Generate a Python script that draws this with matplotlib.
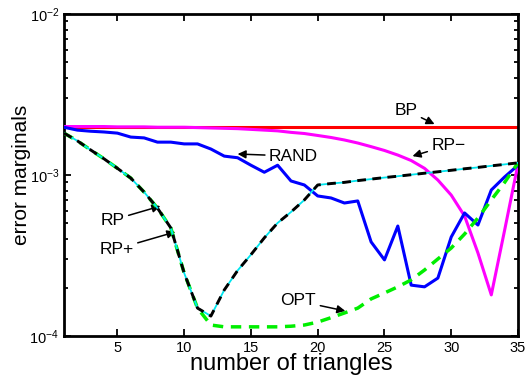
import numpy as np
import matplotlib
matplotlib.use("Agg")
import matplotlib.pyplot as plt
from matplotlib.ticker import LogLocator, FixedLocator

plt.rcParams['font.family'] = ['Liberation Sans', 'DejaVu Sans']
plt.rcParams['mathtext.fontset'] = 'custom'
plt.rcParams['mathtext.rm'] = 'Liberation Sans'
plt.rcParams['mathtext.it'] = 'Liberation Sans:italic'
plt.rcParams['mathtext.bf'] = 'Liberation Sans:bold'

n_triangles = list(range(1, 36))

bp = [2.0e-3] * 35

rp_minus = [2.0e-3, 2.0e-3, 2.0e-3, 2.0e-3, 1.99e-3, 1.99e-3, 1.99e-3, 1.98e-3, 1.98e-3, 1.98e-3,
            1.97e-3, 1.96e-3, 1.95e-3, 1.94e-3, 1.92e-3, 1.90e-3, 1.88e-3, 1.84e-3, 1.81e-3, 1.76e-3,
            1.71e-3, 1.65e-3, 1.58e-3, 1.50e-3, 1.42e-3, 1.33e-3, 1.23e-3, 1.10e-3, 9.3e-4, 7.5e-4,
            5.56e-4, 3.28e-4, 1.80e-4, 4.55e-4, 1.17e-3]

rand = [1.98e-3, 1.90e-3, 1.87e-3, 1.85e-3, 1.82e-3, 1.72e-3, 1.70e-3, 1.60e-3, 1.60e-3, 1.56e-3,
        1.56e-3, 1.45e-3, 1.31e-3, 1.28e-3, 1.15e-3, 1.04e-3, 1.15e-3, 9.18e-4, 8.67e-4, 7.41e-4,
        7.20e-4, 6.70e-4, 6.90e-4, 3.84e-4, 2.97e-4, 4.82e-4, 2.07e-4, 2.02e-4, 2.29e-4, 4.12e-4,
        5.81e-4, 4.89e-4, 8.07e-4, 9.73e-4, 1.15e-3]

rp = [1.82e-3, 1.63e-3, 1.43e-3, 1.26e-3, 1.10e-3, 9.57e-4, 7.83e-4, 6.23e-4, 4.69e-4, 2.46e-4,
      1.49e-4, 1.33e-4, 1.93e-4, 2.55e-4, 3.20e-4, 4.07e-4, 5.04e-4, 5.89e-4, 7.0e-4, 8.67e-4,
      8.85e-4, 9.0e-4, 9.23e-4, 9.43e-4, 9.64e-4, 9.83e-4, 1.004e-3, 1.026e-3, 1.047e-3, 1.07e-3,
      1.093e-3, 1.115e-3, 1.14e-3, 1.164e-3, 1.19e-3]

rp_plus = list(rp)

opt = [1.82e-3, 1.63e-3, 1.43e-3, 1.26e-3, 1.10e-3, 9.57e-4, 7.83e-4, 6.23e-4, 4.69e-4, 2.46e-4,
       1.49e-4, 1.17e-4, 1.14e-4, 1.14e-4, 1.14e-4, 1.14e-4, 1.14e-4, 1.15e-4, 1.17e-4, 1.22e-4,
       1.30e-4, 1.39e-4, 1.49e-4, 1.70e-4, 1.85e-4, 2.02e-4, 2.23e-4, 2.57e-4, 3.01e-4, 3.52e-4,
       4.30e-4, 5.41e-4, 7.0e-4, 9.0e-4, 1.19e-3]

x_ticks = [5, 10, 15, 20, 25, 30, 35]

fig = plt.figure(figsize=(5.26, 3.76), dpi=100)
ax = fig.add_axes([64/526, 1-336/376, (518-64)/526, (336-14)/376])

ax.plot(n_triangles, bp, color='#ff0000', lw=2.2, zorder=2)
ax.plot(n_triangles, rp_minus, color='#ff00ff', lw=2.2, zorder=3)
ax.plot(n_triangles, rand, color='#0000ff', lw=2.2, zorder=4)
ax.plot(n_triangles, opt, color='#00ee00', lw=2.5, ls=(0, (3, 2.2)), zorder=5)
ax.plot(n_triangles, rp, color='#00e5ee', lw=1.3, zorder=6)
ax.plot(n_triangles, rp_plus, color='black', lw=2.1, ls=(0, (3, 2.2)), zorder=7)

ax.set_yscale('log')
ax.set_xlim(1, 35)
ax.set_ylim(1e-4, 1e-2)
ax.xaxis.set_major_locator(FixedLocator(x_ticks))
ax.yaxis.set_major_locator(LogLocator(base=10, numticks=5))
ax.yaxis.set_minor_locator(LogLocator(base=10, subs=np.arange(2, 10), numticks=20))
ax.yaxis.set_minor_formatter(matplotlib.ticker.NullFormatter())

ax.tick_params(which='both', direction='in', top=True, right=True, labelsize=10.5, width=1.3)
ax.tick_params(which='major', length=5)
ax.tick_params(which='minor', length=3)
for s in ax.spines.values():
    s.set_linewidth(2)

ax.set_xlabel('number of triangles', fontsize=17, labelpad=-1)
ax.set_ylabel('error marginals', fontsize=15, labelpad=-1)

arrow = dict(arrowstyle='-|>', color='black', lw=1.1, mutation_scale=12, shrinkA=1, shrinkB=0)
fs = 12.5
ax.annotate('BP', xy=(28.75, 2.07e-3), xytext=(26.6, 2.53e-3), fontsize=fs,
            ha='center', va='center', arrowprops=arrow)
ax.annotate('RP\u2212', xy=(27.1, 1.31e-3), xytext=(29.8, 1.53e-3), fontsize=fs,
            ha='center', va='center', arrowprops=arrow)
ax.annotate('RAND', xy=(14.0, 1.35e-3), xytext=(18.2, 1.31e-3), fontsize=fs,
            ha='center', va='center', arrowprops=arrow)
ax.annotate('RP', xy=(8.22, 6.41e-4), xytext=(4.63, 5.25e-4), fontsize=fs,
            ha='center', va='center', arrowprops=arrow)
ax.annotate('RP+', xy=(9.34, 4.43e-4), xytext=(4.93, 3.47e-4), fontsize=fs,
            ha='center', va='center', arrowprops=arrow)
ax.annotate('OPT', xy=(22.07, 1.43e-4), xytext=(18.55, 1.65e-4), fontsize=fs,
            ha='center', va='center', arrowprops=arrow)

fig.savefig('out.png', dpi=100)
